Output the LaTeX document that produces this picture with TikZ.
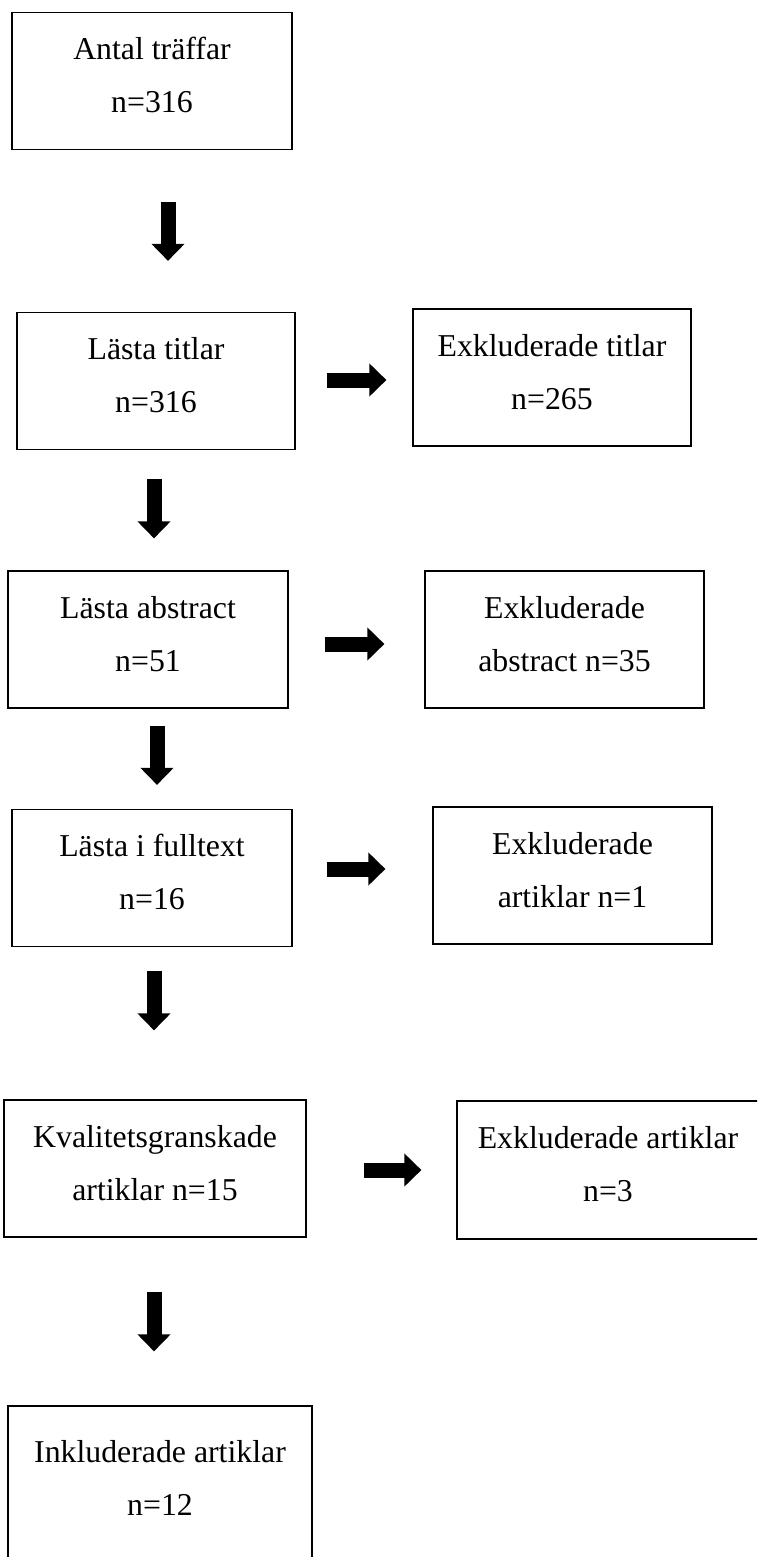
\documentclass[tikz,border=0pt]{standalone}
\usepackage{fontspec}
\setmainfont{Liberation Serif}
\usetikzlibrary{arrows.meta}
\newcommand{\lowfill}{\rule[-6pt]{0pt}{0pt}}

\begin{document}
\begin{tikzpicture}[x=0.5pt, y=-0.5pt,
    box/.style={rectangle, draw=black, line width=0.6pt, align=center, inner sep=0pt,
        font=\fontsize{15.9pt}{26.5pt}\selectfont, minimum height=68.5pt,
        execute at end node=\lowfill},
    fat/.style={line width=7.5pt, -{Triangle[width=16pt, length=8.5pt]}}]
    \clip (0,0) rectangle (757,1557);

    % main column
    \node[box, minimum width=140pt] (b1) at (152,81)    {Antal träffar\\n=316};
    \node[box, minimum width=139pt] (b2) at (156,381)   {Lästa titlar\\n=316};
    \node[box, minimum width=140pt] (b3) at (148,639.5) {Lästa abstract\\n=51};
    \node[box, minimum width=140pt] (b4) at (152,878)   {Lästa i fulltext\\n=16};
    \node[box, minimum width=151pt] (b5) at (155,1168.5){Kvalitetsgranskade\\artiklar n=15};
    \node[box, minimum width=152pt, minimum height=78pt] (b6) at (160,1484) {Inkluderade artiklar\\n=12};

    % excluded column
    \node[box, minimum width=139pt] (r2) at (552,377.5) {Exkluderade titlar\\n=265};
    \node[box, minimum width=139.5pt] (r3) at (564.5,639.5) {Exkluderade\\abstract n=35};
    \node[box, minimum width=139.5pt] (r4) at (572.5,875.5) {Exkluderade\\artiklar n=1};
    \node[box, minimum width=151pt, minimum height=69pt] (r5) at (608,1170) {Exkluderade artiklar\\n=3};

    % downward arrows
    \draw[fat, shorten <=26pt, shorten >=25.5pt] ([xshift=8pt]b1.south) -- ([xshift=8pt]b1.south |- b2.north);
    \draw[fat, shorten <=14.5pt, shorten >=16pt] ([xshift=-1pt]b2.south) -- ([xshift=-1pt]b2.south |- b3.north);
    \draw[fat, shorten <=8.5pt, shorten >=12pt] ([xshift=4.5pt]b3.south) -- ([xshift=4.5pt]b3.south |- b4.north);
    \draw[fat, shorten <=12pt, shorten >=34.5pt] ([xshift=1pt]b4.south) -- ([xshift=1pt]b4.south |- b5.north);
    \draw[fat, shorten <=27pt, shorten >=27pt] ([xshift=-0.5pt]b5.south) -- ([xshift=-0.5pt]b5.south |- b6.north);

    % sideways arrows
    \draw[fat, shorten <=15.5pt, shorten >=13pt] ([yshift=0.5pt]b2.east) -- ([yshift=0.5pt]b2.east -| r2.west);
    \draw[fat, shorten <=18pt, shorten >=20pt] ([yshift=-2.25pt]b3.east) -- ([yshift=-2.25pt]b3.east -| r3.west);
    \draw[fat, shorten <=17pt, shorten >=23.5pt] ([yshift=4.5pt]b4.east) -- ([yshift=4.5pt]b4.east -| r4.west);
    \draw[fat, shorten <=28.5pt, shorten >=17.5pt] ([yshift=-0.75pt]b5.east) -- ([yshift=-0.75pt]b5.east -| r5.west);
\end{tikzpicture}
\end{document}
